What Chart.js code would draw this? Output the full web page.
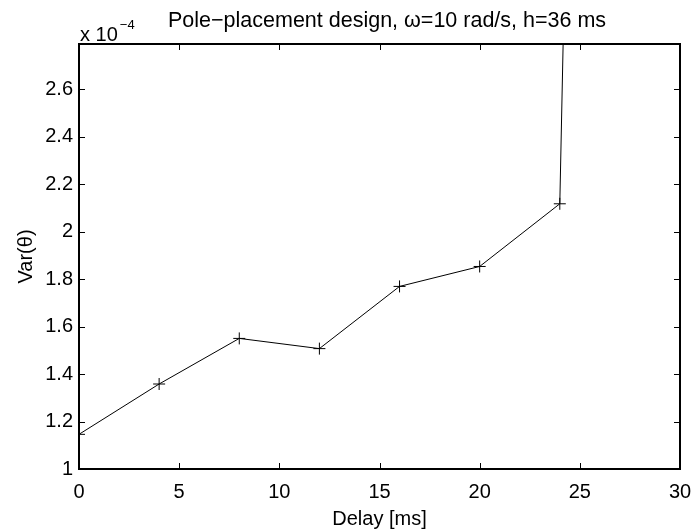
<!DOCTYPE html>
<html>
<head>
<meta charset="utf-8">
<title>Pole-placement design</title>
<script src="https://cdn.jsdelivr.net/npm/chart.js@4.4.1/dist/chart.umd.min.js"></script>
<style>
  html, body { margin: 0; padding: 0; background: #fff; }
  #wrap { width: 695px; height: 532px; }
</style>
</head>
<body>
<div id="wrap"><canvas id="varChart" width="695" height="532"></canvas></div>
<script>
// Datos (Var(theta) en unidades de 1e-4)
const delays = [0, 4, 8, 12, 16, 20, 24, 28];
const variance = [1.146, 1.358, 1.55, 1.507, 1.769, 1.853, 2.117, 18.3];
const xTicks = [0, 5, 10, 15, 20, 25, 30];
const yTicks = [1, 1.2, 1.4, 1.6, 1.8, 2, 2.2, 2.4, 2.6];

const FONT = 'Liberation Sans, Arial, Helvetica, sans-serif';
const FS = 20;

// Marco de ejes estilo MATLAB con marcas hacia dentro y textos
const matlabFrame = {
  id: 'matlabFrame',
  afterDraw(chart) {
    const { ctx, chartArea: a, scales } = chart;
    const tl = 6;
    ctx.save();
    ctx.strokeStyle = '#000';
    ctx.lineWidth = 1;
    ctx.beginPath();
    xTicks.forEach(v => {
      const px = Math.round(scales.x.getPixelForValue(v)) + 0.5;
      ctx.moveTo(px, a.bottom); ctx.lineTo(px, a.bottom - tl);
      ctx.moveTo(px, a.top); ctx.lineTo(px, a.top + tl);
    });
    yTicks.forEach(v => {
      const py = Math.round(scales.y.getPixelForValue(v)) + 0.5;
      ctx.moveTo(a.left, py); ctx.lineTo(a.left + tl, py);
      ctx.moveTo(a.right, py); ctx.lineTo(a.right - tl, py);
    });
    ctx.stroke();
    ctx.lineWidth = 2;
    ctx.strokeRect(a.left, a.top, a.right - a.left, a.bottom - a.top);

    ctx.fillStyle = '#000';
    ctx.textBaseline = 'alphabetic';
    // Título
    ctx.font = '21.5px ' + FONT;
    ctx.textAlign = 'left';
    ctx.fillText('Pole\u2212placement design, \u03c9=10 rad/s, h=36 ms', 168, 27);
    // Exponente
    ctx.font = FS + 'px ' + FONT;
    ctx.fillText('x 10', 80, 41);
    const w = ctx.measureText('x 10').width;
    ctx.font = '13px ' + FONT;
    ctx.fillText('\u22124', 80 + w + 2, 29);
    // Título eje x
    ctx.font = FS + 'px ' + FONT;
    ctx.textAlign = 'center';
    ctx.fillText('Delay [ms]', (a.left + a.right) / 2, 525);
    // Título eje y
    ctx.save();
    ctx.translate(32, (a.top + a.bottom) / 2);
    ctx.rotate(-Math.PI / 2);
    ctx.fillText('Var(\u03b8)', 0, 0);
    ctx.restore();
    ctx.restore();
  }
};

const ctx = document.getElementById('varChart').getContext('2d');
const varChart = new Chart(ctx, {
  type: 'line',
  data: {
    datasets: [{
      label: 'Var(theta)',
      data: delays.map((d, i) => ({ x: d, y: variance[i] })),
      borderColor: '#000',
      backgroundColor: '#000',
      borderWidth: 1,
      pointStyle: 'cross',
      pointRadius: 6,
      pointBorderWidth: 1,
      fill: false,
      tension: 0
    }]
  },
  options: {
    responsive: false,
    animation: false,
    events: [],
    layout: { padding: { top: 44, right: 15, left: 0, bottom: 0 } },
    plugins: { legend: { display: false }, tooltip: { enabled: false } },
    scales: {
      x: {
        type: 'linear',
        min: 0,
        max: 30,
        afterFit: s => {
          s.height = 532 - 469;
          s.paddingLeft = 0;
          s.paddingRight = 0;
        },
        afterBuildTicks: s => { s.ticks = xTicks.map(v => ({ value: v })); },
        grid: { display: false, drawTicks: false },
        border: { display: false },
        ticks: { color: '#000', font: { family: FONT, size: FS }, padding: 11, maxRotation: 0 }
      },
      y: {
        type: 'linear',
        min: 1,
        max: 2.79,
        afterFit: s => {
          s.width = 79;
          s.paddingTop = 0;
          s.paddingBottom = 0;
        },
        afterBuildTicks: s => { s.ticks = yTicks.map(v => ({ value: v })); },
        grid: { display: false, drawTicks: false },
        border: { display: false },
        ticks: {
          color: '#000',
          font: { family: FONT, size: FS },
          padding: 6,
          callback: v => String(Math.round(v * 10) / 10)
        }
      }
    }
  },
  plugins: [matlabFrame]
});
</script>
</body>
</html>
